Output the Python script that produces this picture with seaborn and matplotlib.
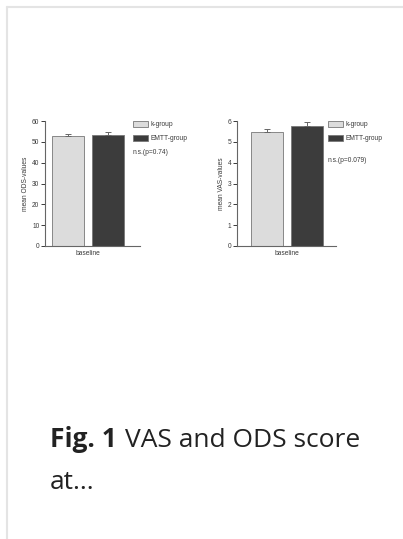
import matplotlib
matplotlib.use("Agg")
import matplotlib.pyplot as plt
import seaborn as sns
import pandas as pd
from matplotlib.lines import Line2D

# --- data ---
groups = ["k-group", "EMTT-group"]
timepoint = ["baseline", "baseline"]
ods_mean = [52.9, 53.3]
ods_sem = [0.9, 1.4]
vas_mean = [5.47, 5.78]
vas_sem = [0.17, 0.15]
ods_ticks = [0, 10, 20, 30, 40, 50, 60]
vas_ticks = [0, 1, 2, 3, 4, 5, 6]
ods_note = "n.s.(p=0.74)"
vas_note = "n.s.(p=0.079)"

sns.set_style("white")
plt.rcParams["font.family"] = ["Liberation Sans", "DejaVu Sans"]

W, H = 403, 539
fig = plt.figure(figsize=(W / 100, H / 100), dpi=100)
fig.patch.set_facecolor("white")

def px_axes(x0, y0, x1, y1):
    return fig.add_axes([x0 / W, 1 - y1 / H, (x1 - x0) / W, (y1 - y0) / H])

palette = {"k-group": "#dcdcdc", "EMTT-group": "#3c3c3c"}
fs = 4.8
txt_col = "#3a3a3a"

def panel(ax, means, sems, ticks, ylabel, xlim, note, leg_xy, note_xy):
    df = pd.DataFrame({"time": timepoint, "group": groups, "value": means})
    sns.barplot(data=df, x="time", y="value", hue="group", hue_order=groups,
                palette=palette, gap=0.2, width=0.8, edgecolor="#777777",
                linewidth=0.6, errorbar=None, ax=ax, legend=True)
    for p, m, s in zip(ax.patches[:2], means, sems):
        xc = p.get_x() + p.get_width() / 2
        ax.errorbar([xc], [m], yerr=[[0], [s]], fmt="none", ecolor="#666666",
                    elinewidth=0.7, capsize=2.5, capthick=0.7)
    ax.set_xlim(*xlim)
    ax.set_ylim(ticks[0], ticks[-1])
    ax.set_yticks(ticks)
    ax.set_xlabel("")
    ax.set_ylabel(ylabel, fontsize=fs, color=txt_col, labelpad=2)
    ax.tick_params(axis="y", direction="out", length=3, width=0.7, pad=1,
                   labelsize=fs, colors=txt_col, left=True)
    ax.tick_params(axis="x", length=0, pad=3, labelsize=fs, colors=txt_col)
    for s in ["top", "right"]:
        ax.spines[s].set_visible(False)
    for s in ["left", "bottom"]:
        ax.spines[s].set_color("#666666")
        ax.spines[s].set_linewidth(0.8)
    handles, labels = ax.get_legend_handles_labels()
    ax.legend(handles, labels, loc="upper left",
              bbox_to_anchor=(leg_xy[0] / W, 1 - leg_xy[1] / H),
              bbox_transform=fig.transFigure, frameon=False, fontsize=fs,
              handlelength=2.3, handleheight=1.0, handletextpad=0.35,
              labelspacing=1.0, borderpad=0, borderaxespad=0,
              labelcolor=txt_col)
    fig.text(note_xy[0] / W, 1 - note_xy[1] / H, note, fontsize=fs,
             color=txt_col, va="center", ha="left")

ax1 = px_axes(45, 121, 140, 246)
panel(ax1, ods_mean, ods_sem, ods_ticks, "mean ODS-values",
      (-0.43, 0.52), ods_note, (133, 121), (133, 153))

ax2 = px_axes(237, 121, 336, 246)
panel(ax2, vas_mean, vas_sem, vas_ticks, "mean VAS-values",
      (-0.5, 0.49), vas_note, (328, 121), (328, 160))

# card border
border = "#e4e4e4"
fig.add_artist(Line2D([6.5 / W, 1], [1 - 6.5 / H, 1 - 6.5 / H],
                      transform=fig.transFigure, color=border, lw=1.5))
fig.add_artist(Line2D([6.5 / W, 6.5 / W], [0, 1 - 6.5 / H],
                      transform=fig.transFigure, color=border, lw=1.5))

# caption
cap_fs = 19
cap_font = ["Open Sans", "DejaVu Sans"]
t1 = fig.text(50 / W, 1 - 447 / H, "Fig. 1", fontsize=cap_fs, fontweight="bold",
              family=cap_font, color="#222222", va="baseline")
fig.canvas.draw()
bb = t1.get_window_extent(fig.canvas.get_renderer())
fig.text(bb.x1 / W + 8 / W, 1 - 447 / H, "VAS and ODS score", fontsize=cap_fs,
         family=cap_font, color="#222222", va="baseline")
fig.text(50 / W, 1 - 489 / H, "at...", fontsize=cap_fs,
         family=cap_font, color="#222222", va="baseline")

fig.savefig("out.png", dpi=100, facecolor="white")
